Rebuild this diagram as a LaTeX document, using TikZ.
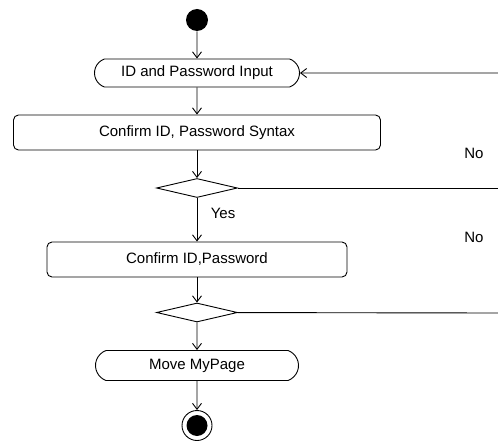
\documentclass[tikz,border=0pt]{standalone}
\usepackage{fontspec}
\setmainfont{Liberation Sans}
\usepackage{tikz}
\usetikzlibrary{arrows.meta, shapes.geometric, shapes.misc, positioning}

\begin{document}
\begin{tikzpicture}[x=1pt, y=1pt, on grid, line width=0.9pt, >={Straight Barb[length=6pt, width=9pt]},
    font=\fontsize{15}{18}\selectfont,
    action/.style={rectangle, rounded corners=5pt, draw, minimum height=35pt, inner sep=0pt},
    io/.style={rounded rectangle, rounded rectangle arc length=140, draw, minimum height=28pt, minimum width=205pt, inner sep=0pt},
    choice/.style={diamond, draw, minimum width=81pt, minimum height=19pt, inner sep=0pt},
    startdot/.style={circle, fill=black, minimum size=22pt, inner sep=0pt},
    enddot/.style={circle, draw, minimum size=30pt, inner sep=0pt, path picture={\fill (path picture bounding box.center) circle (10.5pt);}}]

            \useasboundingbox (0,0) rectangle (498,-441);

            \node[startdot] (S) at (197,-20) {};
            \node[io, below=53pt of S] (Input) {ID and Password Input};
            \node[action, minimum width=367pt, below=59.5pt of Input] (Syntax) {Confirm ID, Password Syntax};
            \node[choice, below=55.5pt of Syntax] (D1) {};
            \node[action, minimum width=300pt, below=71.5pt of D1] (Check) {Confirm ID,Password};
            \node[choice, below=53pt of Check] (D2) {};
            \node[io, minimum height=30pt, minimum width=203pt, below=53pt of D2] (MyPage) {Move MyPage};
            \node[enddot, below=60pt of MyPage] (E) {};

            \coordinate (R1) at (498,-73);
            \coordinate (R2) at (498,-188);
            \coordinate (R3) at (498,-313);
            \node at (474,-153) (No1) {No};
            \node at (474,-237) (No2) {No};

            \path[->]
            (S) edge (Input)
            (Input) edge (Syntax)
            (Syntax) edge (D1)
            (D1) edge node[right=10pt, pos=0.35] {Yes} (Check)
            (Check) edge (D2)
            (D2) edge (MyPage)
            (MyPage) edge (E)
            (R1) edge (Input);

            \draw (D1) -- (R2);
            \draw (D2) -- (R3);

        \end{tikzpicture}
\end{document}
